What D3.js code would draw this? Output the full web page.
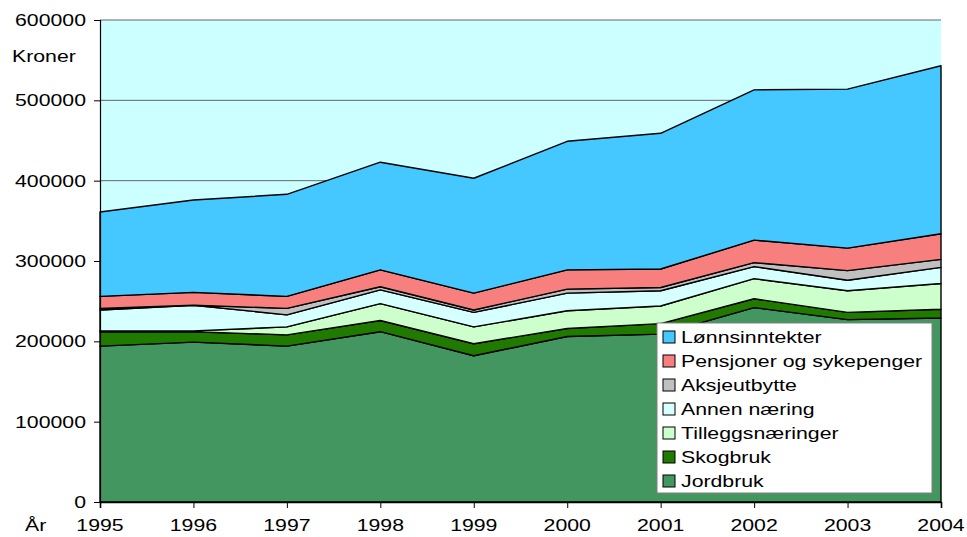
<!DOCTYPE html>
<html>
<head>
<meta charset="utf-8">
<script src="https://cdn.jsdelivr.net/npm/d3@7"></script>
<style>
  body { margin: 0; background: #fff; }
  text { font-family: Arial, "Liberation Sans", sans-serif; fill: #000; }
</style>
</head>
<body>
<svg id="chart" width="967" height="537"></svg>
<script>
// Data (kroner)
const years = [1995, 1996, 1997, 1998, 1999, 2000, 2001, 2002, 2003, 2004];
const jordbruk = [194000, 199000, 194000, 212000, 182000, 206000, 209000, 242000, 227000, 229000];
const skogbruk = [18000, 13000, 14000, 14000, 15000, 10000, 13000, 11000, 9000, 11000];
const tilleggsnaeringer = [1000, 1000, 10000, 21000, 21000, 22000, 22000, 25000, 27000, 32000];
const annenNaering = [26000, 32000, 15000, 17000, 18000, 22000, 19000, 15000, 13000, 20000];
const aksjeutbytte = [2000, 0, 8000, 4000, 3000, 5000, 4000, 5000, 12000, 10000];
const pensjoner = [15000, 16000, 15000, 21000, 21000, 24000, 23000, 28000, 28000, 32000];
const lonn = [105000, 115000, 127000, 134000, 143000, 160000, 169000, 187000, 198000, 209000];
const yTicks = [0, 100000, 200000, 300000, 400000, 500000, 600000];

// bottom to top stacking order
const seriesNames = ["Jordbruk", "Skogbruk", "Tilleggsnæringer", "Annen næring", "Aksjeutbytte", "Pensjoner og sykepenger", "Lønnsinntekter"];
const seriesValues = [jordbruk, skogbruk, tilleggsnaeringer, annenNaering, aksjeutbytte, pensjoner, lonn];
const colors = ["#43965F", "#217A00", "#CCFFCC", "#D6FFFF", "#C0C0C0", "#F7807F", "#45C8FF"];

const svg = d3.select("#chart");
const x = d3.scaleLinear().domain([1995, 2004]).range([100, 941]);
const y = d3.scaleLinear().domain([0, 600000]).range([502, 20]);
const sx = 1.33; // text in the original is stretched horizontally

function label(px, py, str, anchor) {
  svg.append("text")
    .attr("transform", `translate(${px},${py}) scale(${sx},1)`)
    .attr("text-anchor", anchor || "start")
    .style("font-size", "16px")
    .text(str);
}

// plot background
svg.append("rect").attr("x", 100).attr("y", 20).attr("width", 841).attr("height", 482).attr("fill", "#CCFFFF");

// gridlines
svg.selectAll(".grid").data(yTicks.slice(1)).enter().append("line")
  .attr("x1", 100).attr("x2", 941)
  .attr("y1", d => y(d)).attr("y2", d => y(d))
  .attr("stroke", "#666").attr("stroke-width", 1);

// stacked areas
const table = years.map((yr, i) => {
  const row = { year: yr };
  seriesNames.forEach((n, k) => row[n] = seriesValues[k][i]);
  return row;
});
const stacked = d3.stack().keys(seriesNames)(table);
const area = d3.area().x(d => x(d.data.year)).y0(d => y(d[0])).y1(d => y(d[1]));

svg.selectAll(".layer").data(stacked).enter().append("path")
  .attr("d", area)
  .attr("fill", (d, i) => colors[i])
  .attr("stroke", "#000").attr("stroke-width", 1.4).attr("stroke-linejoin", "round");

// axes
const yAxis = svg.append("g").attr("transform", "translate(100,0)")
  .call(d3.axisLeft(y).tickValues(yTicks).tickSize(6).tickFormat(""));
yAxis.select(".domain").attr("stroke", "#000").attr("stroke-width", 1.2);
yAxis.selectAll(".tick line").attr("stroke", "#000");

const xAxis = svg.append("g").attr("transform", "translate(0,502)")
  .call(d3.axisBottom(x).tickValues(years).tickSize(6).tickFormat(""));
xAxis.select(".domain").attr("stroke", "#000").attr("stroke-width", 1.6);
xAxis.selectAll(".tick line").attr("stroke", "#000");

yTicks.forEach(t => label(86, y(t) + 6, String(t), "end"));
years.forEach(yr => label(x(yr), 531, String(yr), "middle"));
label(12, 62, "Kroner");
label(25, 531, "År");

// legend
const lg = svg.append("g");
lg.append("rect").attr("x", 657).attr("y", 323).attr("width", 275).attr("height", 170)
  .attr("fill", "#fff").attr("stroke", "#808080").attr("stroke-width", 1);
const legendOrder = seriesNames.map((n, i) => i).reverse();
legendOrder.forEach((k, j) => {
  const cy = 337 + j * 24;
  lg.append("rect").attr("x", 663).attr("y", cy - 6).attr("width", 12).attr("height", 12)
    .attr("fill", colors[k]).attr("stroke", "#000").attr("stroke-width", 1);
  label(681, cy + 6, seriesNames[k]);
});
</script>
</body>
</html>
